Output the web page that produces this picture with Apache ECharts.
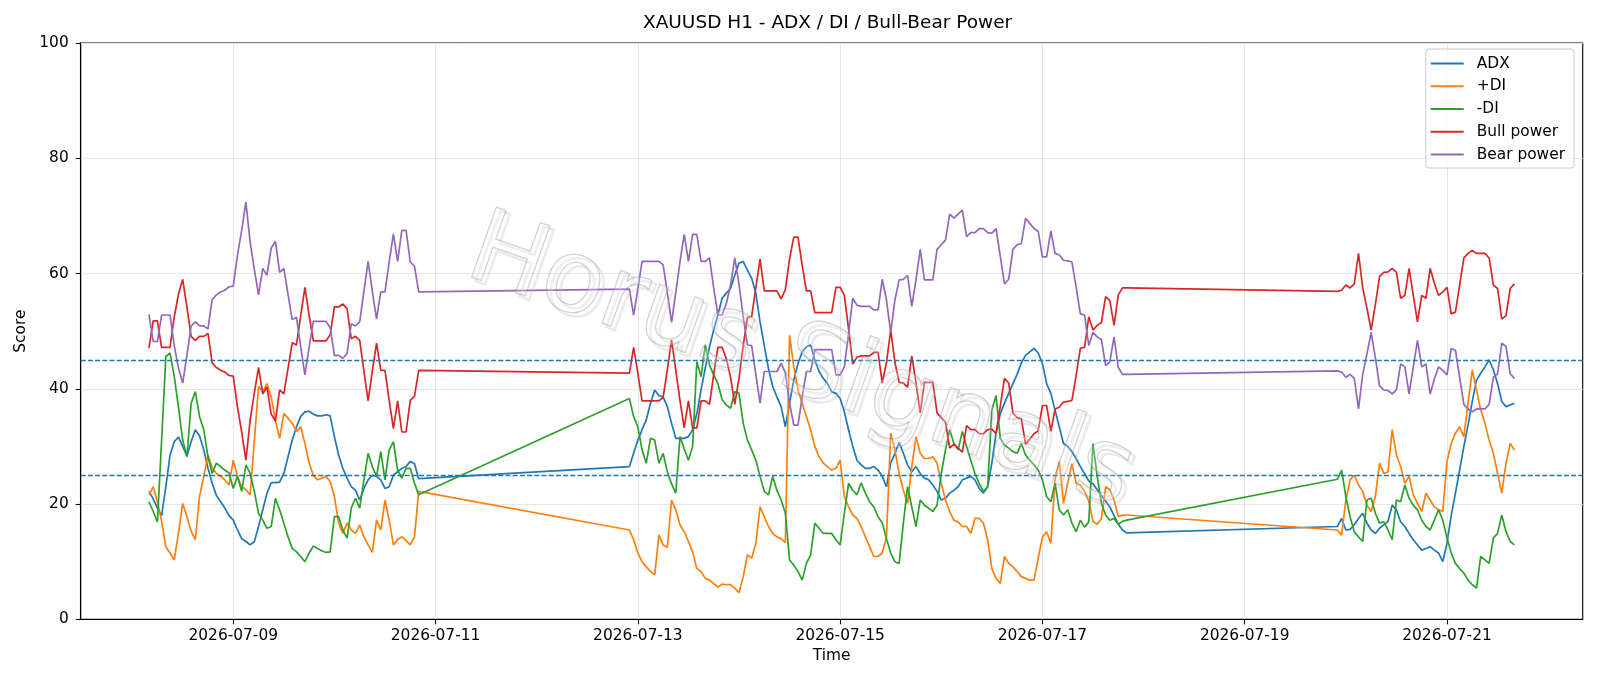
<!DOCTYPE html>
<html><head><meta charset="utf-8">
<script src="https://cdn.jsdelivr.net/npm/echarts@6/dist/echarts.min.js"></script>
<style>html,body{margin:0;padding:0;background:#fff}#c{width:1600px;height:686px}</style>
</head><body><div id="c"></div>
<script>
// hourly bars: [segment start (UTC), number of hourly points]
const timeSegments = [['2026-07-08T04:00:00Z', 65], ['2026-07-12T22:00:00Z', 119], ['2026-07-19T22:00:00Z', 43]];
const xTickDates = ['2026-07-09', '2026-07-11', '2026-07-13', '2026-07-15', '2026-07-17', '2026-07-19', '2026-07-21'];
const thresholdLevels = [45, 25];

const adx = [
22.2,20.9,19.3,18.0,23.0,28.5,30.8,31.6,30.0,28.3,30.8,32.9,31.8,29.4,26.2,23.6,21.5,20.4,19.3,18.0,
17.2,15.5,14.0,13.5,12.9,13.5,16.1,19.0,21.9,23.7,23.7,23.8,25.3,28.2,31.1,33.4,35.2,36.0,36.1,35.6,
35.3,35.3,35.5,35.3,31.7,28.5,26.2,24.5,23.0,22.4,20.7,22.7,24.2,25.0,24.8,24.2,22.7,23.0,25.0,25.6,
26.2,26.5,27.4,27.0,24.4,
26.5,28.8,31.1,32.9,34.6,37.5,39.8,38.8,38.6,36.9,34.0,31.4,31.4,31.4,31.7,32.9,35.7,39.8,43.6,47.3,
50.2,52.8,55.7,56.6,57.4,59.7,61.8,62.1,60.6,59.2,56.6,51.6,47.5,43.5,40.4,38.6,36.9,33.4,37.5,41.5,
44.4,46.4,47.3,47.6,45.0,43.0,41.8,40.9,39.5,39.2,38.3,36.0,32.9,30.0,27.6,26.8,26.2,26.2,26.5,25.9,
24.8,23.0,27.1,28.8,30.7,28.8,26.8,25.6,26.5,25.3,24.5,24.2,23.3,22.2,20.7,21.0,21.9,22.4,23.0,24.2,
24.5,24.8,24.2,22.7,21.9,23.0,27.1,32.3,35.7,37.5,39.2,40.9,42.5,44.5,45.8,46.4,47.0,46.2,44.4,40.9,
39.2,36.3,33.4,30.5,30.0,29.1,27.9,26.5,25.3,24.0,23.5,22.5,21.5,20.5,19.5,18.0,16.5,15.5,15.0,
16.1,17.5,15.5,15.6,16.4,17.5,18.4,16.7,15.5,14.9,15.8,16.4,17.0,19.8,19.0,16.9,16.1,14.9,13.8,12.9,
12.0,12.3,12.6,12.0,11.5,10.0,13.2,18.0,21.9,25.9,30.0,33.7,37.8,41.5,42.7,43.8,45.0,43.3,40.9,37.8,
36.9,37.2,37.5
];
const plusDI = [
21.6,23.0,20.4,17.0,12.6,11.5,10.3,15.0,20.1,17.8,15.3,13.8,21.3,24.8,28.5,26.3,25.3,24.8,24.2,23.3,
27.6,24.8,23.0,22.5,21.6,31.0,40.4,39.5,40.9,38.6,34.5,31.4,35.7,34.9,34.0,32.6,33.4,30.5,27.1,25.0,
24.2,24.5,24.8,23.9,21.3,16.7,14.9,16.7,15.5,14.9,16.4,14.3,12.9,11.6,17.2,15.5,20.7,17.2,12.9,13.9,
14.3,13.7,12.9,14.3,22.2,
15.5,13.8,11.5,10.0,9.1,8.3,7.7,14.6,12.9,12.5,20.7,19.0,16.4,15.2,13.5,11.7,8.8,8.3,7.1,6.8,
6.2,5.6,6.1,6.0,6.0,5.4,4.6,7.4,11.2,10.6,13.2,19.5,17.8,16.1,14.9,14.3,14.0,13.3,49.3,43.8,
39.8,37.5,35.2,32.9,30.0,28.2,27.1,26.5,25.9,26.2,27.6,21.3,19.5,18.1,17.5,16.1,14.3,12.6,10.9,10.9,
11.5,14.3,32.3,29.4,25.3,22.4,20.1,26.5,31.7,28.8,27.9,27.9,28.2,27.1,23.6,20.7,18.7,17.2,16.9,16.1,
16.1,14.9,17.5,17.5,16.7,13.8,8.8,7.1,6.2,10.9,9.7,9.1,8.3,7.4,7.1,6.8,6.8,10.6,14.3,15.2,
13.2,24.2,27.4,20.1,23.6,27.0,23.6,23.3,22.2,20.5,17.0,16.5,17.5,23.0,22.5,20.7,17.8,18.1,18.1,
15.5,14.6,20.7,24.2,25.0,23.3,22.2,19.8,18.7,21.3,27.1,25.3,25.6,32.9,28.5,26.5,23.6,24.8,21.6,20.1,
18.7,21.9,20.7,19.5,19.0,18.7,27.4,30.5,32.3,33.4,31.7,37.5,43.3,39.8,36.3,34.0,31.1,28.8,25.3,21.9,
27.1,30.5,29.4
];
const minusDI = [
20.4,18.7,16.9,31.0,45.6,46.2,42.1,36.8,31.1,28.2,37.5,39.5,35.2,32.9,28.2,25.3,27.1,26.5,25.9,25.4,
22.7,24.8,22.2,26.8,25.3,22.2,18.4,17.2,15.8,16.1,21.0,19.0,16.7,14.3,12.3,11.7,10.9,10.0,11.5,12.7,
12.3,11.9,11.6,11.7,17.8,17.8,15.5,14.1,19.3,21.0,19.3,24.2,28.8,26.5,24.8,29.1,24.2,29.4,30.8,25.9,
24.5,26.2,26.2,23.6,21.6,
38.3,35.2,33.4,29.4,27.1,31.4,31.1,27.1,28.8,25.6,23.5,21.9,31.7,29.6,27.6,30.0,44.7,42.1,47.6,44.1,
42.4,40.9,38.1,37.2,36.6,39.5,39.2,34.0,31.1,29.4,27.6,24.8,22.2,21.6,24.8,22.4,20.7,18.4,10.3,9.4,
8.3,6.8,9.7,11.2,16.7,15.8,14.9,14.9,14.9,13.8,12.9,18.4,23.6,22.4,21.6,23.7,21.9,20.4,19.5,17.8,
16.7,14.0,11.5,10.0,9.7,16.7,23.0,19.5,16.1,20.7,19.8,19.3,18.7,19.8,25.3,29.4,32.9,30.5,29.4,32.6,
30.0,27.6,25.3,23.6,22.2,23.0,36.3,38.8,31.4,30.2,29.7,29.1,28.8,30.5,28.5,27.6,26.8,25.9,24.2,21.3,
20.4,23.6,19.0,18.1,19.0,16.7,15.2,17.2,16.0,16.9,30.5,24.8,20.1,18.1,17.2,17.5,16.5,17.0,17.2,
24.3,25.9,21.3,17.8,15.2,14.3,13.5,20.7,21.0,18.4,16.7,16.9,15.5,13.8,20.7,20.4,23.3,21.0,19.8,19.0,
17.2,16.1,15.5,17.2,19.0,17.2,14.1,11.5,9.7,8.8,8.0,6.8,6.0,5.4,10.9,10.3,9.7,14.1,14.9,18.1,
15.2,13.5,12.9
];
const bullPower = [
47.1,51.8,51.8,47.2,47.2,47.2,52.5,56.4,59.0,54.2,49.1,48.4,49.1,49.1,49.6,44.5,43.7,43.2,42.9,42.3,
42.2,36.8,32.5,27.6,34.5,39.3,43.7,39.1,40.3,35.6,34.4,39.8,39.1,43.6,48.0,47.6,52.7,57.6,52.8,48.3,
48.3,48.3,48.3,49.4,54.2,54.2,54.7,53.9,48.7,49.1,48.4,43.1,37.9,43.1,47.9,43.2,43.2,38.0,33.1,37.9,
32.5,32.5,38.0,38.7,43.2,
42.7,47.2,42.7,37.9,37.9,37.9,37.9,37.9,38.5,43.3,48.5,43.3,38.0,33.2,37.9,33.2,33.2,37.9,37.9,37.3,
42.5,47.2,47.2,45.2,42.0,37.3,41.8,47.5,52.4,52.5,57.5,62.5,57.0,57.0,57.0,57.0,55.6,57.2,62.5,66.3,
66.3,61.4,57.0,57.0,53.2,53.2,53.2,53.2,53.2,57.6,57.6,56.2,50.4,44.3,45.5,45.7,45.7,45.7,46.3,46.3,
41.0,44.6,50.2,44.6,41.1,41.0,40.3,45.7,41.1,35.8,41.1,41.1,41.1,35.8,35.0,34.2,29.7,30.4,29.7,29.0,
33.6,32.9,32.9,32.2,32.2,32.9,33.0,32.2,37.0,41.8,41.0,35.8,35.0,34.8,30.4,31.3,32.2,32.7,37.1,37.1,
32.6,36.5,36.8,37.7,37.8,38.0,42.3,47.0,47.2,52.5,50.2,51.0,51.5,56.0,55.3,51.0,56.3,57.5,57.5,
56.9,57.1,58.0,57.5,58.2,63.5,57.5,54.0,50.2,54.6,59.5,60.2,60.3,60.9,60.2,55.7,56.2,60.9,56.2,51.6,
56.2,55.7,60.9,58.3,56.2,56.8,57.6,53.0,53.3,58.0,62.7,63.5,64.0,63.5,63.5,63.5,62.7,58.0,57.4,52.1,
52.7,57.4,58.2
];
const bearPower = [
52.9,48.2,48.2,52.8,52.8,52.8,47.5,43.6,41.0,45.8,50.9,51.6,50.9,50.9,50.4,55.5,56.3,56.8,57.1,57.7,
57.8,63.2,67.5,72.4,65.5,60.7,56.3,60.9,59.7,64.4,65.6,60.2,60.9,56.4,52.0,52.4,47.3,42.4,47.2,51.7,
51.7,51.7,51.7,50.6,45.8,45.8,45.3,46.1,51.3,50.9,51.6,56.9,62.1,56.9,52.1,56.8,56.8,62.0,66.9,62.1,
67.5,67.5,62.0,61.3,56.8,
57.3,52.8,57.3,62.1,62.1,62.1,62.1,62.1,61.5,56.7,51.5,56.7,62.0,66.8,62.1,66.8,66.8,62.1,62.1,62.7,
57.5,52.8,52.8,54.8,58.0,62.7,58.2,52.5,47.6,47.5,42.5,37.5,43.0,43.0,43.0,43.0,44.4,42.8,37.5,33.7,
33.7,38.6,43.0,43.0,46.8,46.8,46.8,46.8,46.8,42.4,42.4,43.8,49.6,55.7,54.5,54.3,54.3,54.3,53.7,53.7,
59.0,55.4,49.8,55.4,58.9,59.0,59.7,54.3,58.9,64.2,58.9,58.9,58.9,64.2,65.0,65.8,70.3,69.6,70.3,71.0,
66.4,67.1,67.1,67.8,67.8,67.1,67.0,67.8,63.0,58.2,59.0,64.2,65.0,65.2,69.6,68.7,67.8,67.3,62.9,62.9,
67.4,63.5,63.2,62.3,62.2,62.0,57.7,53.0,52.8,47.5,49.8,49.0,48.5,44.0,44.7,49.0,43.7,42.5,42.5,
43.1,42.9,42.0,42.5,41.8,36.5,42.5,46.0,49.8,45.4,40.5,39.8,39.7,39.1,39.8,44.3,43.8,39.1,43.8,48.4,
43.8,44.3,39.1,41.7,43.8,43.2,42.4,47.0,46.7,42.0,37.3,36.5,36.0,36.5,36.5,36.5,37.3,42.0,42.6,47.9,
47.3,42.6,41.8
];

const HOUR = 3600000;
const times = [];
timeSegments.forEach(([start, n]) => {
  const t0 = Date.parse(start);
  for (let i = 0; i < n; i++) times.push(t0 + i * HOUR);
});
const pair = arr => arr.map((v, i) => [times[i], v]);
const tFirst = times[0], tLast = times[times.length - 1];
const span = tLast - tFirst;
const xMin = tFirst - 0.05 * span, xMax = tLast + 0.05 * span;
const tickValues = xTickDates.map(d => Date.parse(d + 'T00:00:00Z'));
const pad2 = n => (n < 10 ? '0' : '') + n;
const fmtDate = v => { const d = new Date(v); return d.getUTCFullYear() + '-' + pad2(d.getUTCMonth() + 1) + '-' + pad2(d.getUTCDate()); };

const FONT = 'DejaVu Sans';
const colors = ['#1f77b4', '#ff7f0e', '#2ca02c', '#d62728', '#9467bd'];
const names = ['ADX', '+DI', '-DI', 'Bull power', 'Bear power'];
const seriesData = [adx, plusDI, minusDI, bullPower, bearPower];

const chart = echarts.init(document.getElementById('c'), null, { renderer: 'canvas' });
const series = seriesData.map((arr, k) => ({
  name: names[k], type: 'line', data: pair(arr), showSymbol: false, symbol: 'none',
  lineStyle: { color: colors[k], width: 1.7 }, itemStyle: { color: colors[k] },
  z: 3, animation: false
}));
series[0].markLine = {
  silent: true, symbol: 'none', label: { show: false }, animation: false,
  lineStyle: { color: '#1f77b4', type: [5, 2.2], width: 1.3 },
  data: thresholdLevels.map(v => ({ yAxis: v }))
};

const wm = 'Horus Signals';
chart.setOption({
  animation: false,
  backgroundColor: '#fff',
  color: colors,
  title: {
    text: 'XAUUSD H1 - ADX / DI / Bull-Bear Power', left: 643, top: 14,
    textStyle: { fontFamily: FONT, fontSize: 18.5, fontWeight: 'normal', color: '#000' }, padding: 0
  },
  grid: { left: 80.7, right: 17.3, top: 43, bottom: 66.7, show: true, borderColor: '#000', borderWidth: 1.1, containLabel: false },
  legend: {
    orient: 'vertical', right: 26, top: 49, icon: 'rect', itemWidth: 33, itemHeight: 2, itemGap: 7.75,
    padding: [7, 9, 6, 5], backgroundColor: 'rgba(255,255,255,0.8)', borderColor: '#cccccc', borderWidth: 1, borderRadius: 3,
    textStyle: { fontFamily: FONT, fontSize: 15.4, color: '#000', padding: [0, 0, 0, 8], lineHeight: 14 },
    data: names
  },
  xAxis: {
    type: 'value', min: xMin, max: xMax, name: 'Time', nameLocation: 'middle', nameGap: 29,
    nameTextStyle: { fontFamily: FONT, fontSize: 15.4, color: '#000' },
    axisLine: { show: true, onZero: false, lineStyle: { color: '#000', width: 1.1 } },
    axisTick: { show: true, length: 5, lineStyle: { color: '#000', width: 1.1 }, customValues: tickValues },
    axisLabel: { fontFamily: FONT, fontSize: 15.4, color: '#000', margin: 9, formatter: v => fmtDate(v), customValues: tickValues },
    splitLine: { show: true, lineStyle: { color: '#e6e6e6', width: 1 } }
  },
  yAxis: {
    type: 'value', min: 0, max: 100, interval: 20, name: 'Score', nameLocation: 'middle', nameGap: 47,
    nameTextStyle: { fontFamily: FONT, fontSize: 15.4, color: '#000' },
    axisLine: { show: true, lineStyle: { color: '#000', width: 1.1 } },
    axisTick: { show: true, length: 5, lineStyle: { color: '#000', width: 1.1 } },
    axisLabel: { fontFamily: FONT, fontSize: 15.4, color: '#000', margin: 12 },
    splitLine: { show: true, lineStyle: { color: '#e6e6e6', width: 1 } }
  },
  graphic: [{
    type: 'text', x: 804, y: 369, rotation: -0.34, z: 99, silent: true,
    style: {
      text: wm, font: '102px "DejaVu Sans"', textAlign: 'center', textVerticalAlign: 'middle',
      fill: 'rgba(255,255,255,0)', stroke: 'rgba(185,185,185,0.3)', lineWidth: 2.5
    }
  }, {
    type: 'text', x: 800, y: 365, rotation: -0.34, z: 100, silent: true,
    style: {
      text: wm, font: '102px "DejaVu Sans"', textAlign: 'center', textVerticalAlign: 'middle',
      fill: 'rgba(255,255,255,0.2)', stroke: 'rgba(125,125,125,0.38)', lineWidth: 1.3
    }
  }],
  series: series
});
</script>
</body></html>
